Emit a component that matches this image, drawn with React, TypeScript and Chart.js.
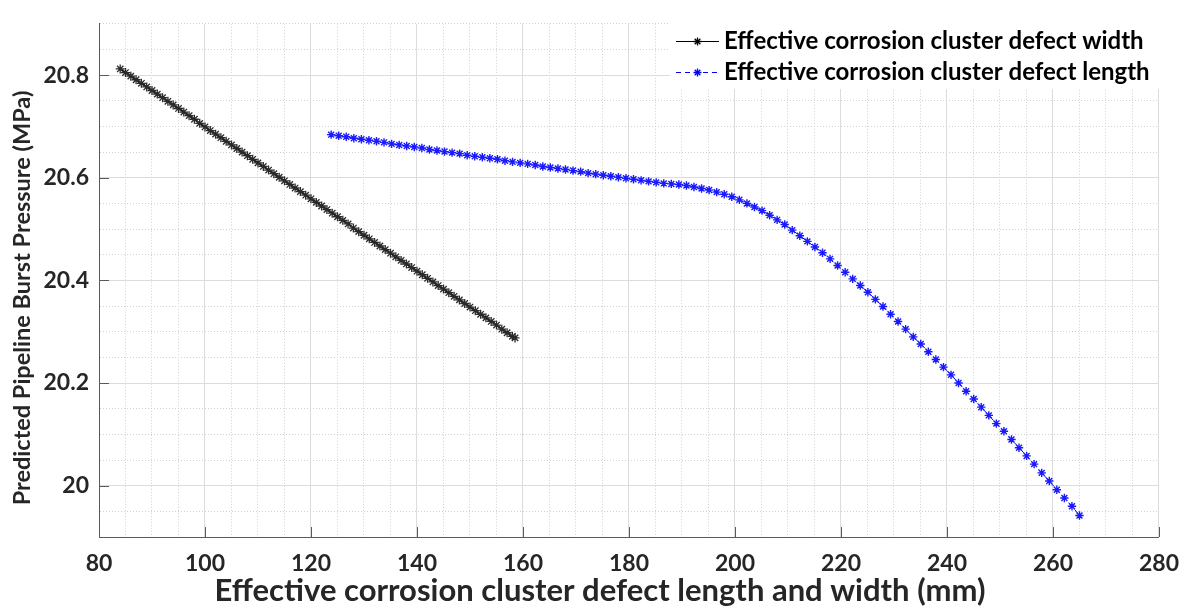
import { useEffect, useRef } from 'react';
import { Chart, registerables } from 'chart.js';

Chart.register(...registerables);

// Effective corrosion cluster defect width (mm) vs predicted burst pressure (MPa)
const widthMm = [
  84, 85, 86, 87, 88, 89, 90, 91, 92, 93, 94, 95, 96, 97, 98, 99, 100, 101, 102, 103,
  104, 105, 106, 107, 108, 109, 110, 111, 112, 113, 114, 115, 116, 117, 118, 119, 120, 121, 122, 123,
  124, 125, 126, 127, 128, 129, 130, 131, 132, 133, 134, 135, 136, 137, 138, 139, 140, 141, 142, 143,
  144, 145, 146, 147, 148, 149, 150, 151, 152, 153, 154, 155, 156, 157, 158, 158.5,
];
const widthPressure = [
  20.812, 20.805, 20.798, 20.791, 20.784, 20.777, 20.77, 20.763, 20.756, 20.749,
  20.742, 20.735, 20.728, 20.721, 20.714, 20.706, 20.699, 20.692, 20.685, 20.678,
  20.671, 20.664, 20.657, 20.65, 20.643, 20.636, 20.629, 20.622, 20.615, 20.608,
  20.601, 20.594, 20.587, 20.58, 20.573, 20.566, 20.559, 20.552, 20.545, 20.538,
  20.531, 20.524, 20.517, 20.51, 20.502, 20.495, 20.488, 20.481, 20.474, 20.467,
  20.46, 20.453, 20.446, 20.439, 20.432, 20.425, 20.418, 20.411, 20.404, 20.397,
  20.39, 20.383, 20.376, 20.369, 20.362, 20.355, 20.348, 20.341, 20.334, 20.327,
  20.32, 20.313, 20.305, 20.298, 20.291, 20.288,
];

// Effective corrosion cluster defect length (mm) vs predicted burst pressure (MPa)
const lengthMm = [
  123.8, 125.23, 126.65, 128.08, 129.51, 130.93, 132.36, 133.78, 135.21, 136.64,
  138.06, 139.49, 140.92, 142.34, 143.77, 145.19, 146.62, 148.05, 149.47, 150.9,
  152.33, 153.75, 155.18, 156.6, 158.03, 159.46, 160.88, 162.31, 163.74, 165.16,
  166.59, 168.02, 169.44, 170.87, 172.29, 173.72, 175.15, 176.57, 178.0, 179.43,
  180.85, 182.28, 183.7, 185.13, 186.56, 187.98, 189.41, 190.84, 192.26, 193.69,
  195.12, 196.54, 197.97, 199.39, 200.82, 202.25, 203.67, 205.1, 206.53, 207.95,
  209.38, 210.8, 212.23, 213.66, 215.08, 216.51, 217.94, 219.36, 220.79, 222.21,
  223.64, 225.07, 226.49, 227.92, 229.35, 230.77, 232.2, 233.63, 235.05, 236.48,
  237.9, 239.33, 240.76, 242.18, 243.61, 245.04, 246.46, 247.89, 249.31, 250.74,
  252.17, 253.59, 255.02, 256.44, 257.87, 259.3, 260.72, 262.15, 263.58, 265.0,
];
const lengthPressure = [
  20.684, 20.682, 20.68, 20.677, 20.675, 20.673, 20.671, 20.669, 20.666, 20.664,
  20.662, 20.66, 20.658, 20.655, 20.653, 20.651, 20.649, 20.647, 20.644, 20.642,
  20.64, 20.638, 20.636, 20.633, 20.631, 20.629, 20.627, 20.625, 20.622, 20.62,
  20.618, 20.616, 20.614, 20.612, 20.609, 20.607, 20.605, 20.603, 20.601, 20.599,
  20.597, 20.595, 20.593, 20.591, 20.589, 20.588, 20.587, 20.585, 20.582, 20.579,
  20.576, 20.572, 20.568, 20.563, 20.557, 20.55, 20.543, 20.536, 20.527, 20.518,
  20.509, 20.498, 20.487, 20.476, 20.465, 20.454, 20.442, 20.429, 20.416, 20.403,
  20.39, 20.377, 20.363, 20.349, 20.334, 20.32, 20.305, 20.29, 20.276, 20.261,
  20.246, 20.231, 20.216, 20.2, 20.184, 20.169, 20.153, 20.137, 20.121, 20.106,
  20.09, 20.074, 20.058, 20.042, 20.025, 20.009, 19.992, 19.976, 19.96, 19.942,
];

const seriesNames = [
  'Effective corrosion cluster defect width',
  'Effective corrosion cluster defect length',
];

const xMajorTicks = [80, 100, 120, 140, 160, 180, 200, 220, 240, 260, 280];
const yMajorTicks = [20, 20.2, 20.4, 20.6, 20.8];
const yTickLabels = ['20', '20.2', '20.4', '20.6', '20.8'];

const xTitle = 'Effective corrosion cluster defect length and width (mm)';
const yTitle = 'Predicted Pipeline Burst Pressure (MPa)';

const FONT = 'Lato';
const TEXT = '#262626';
const AXIS = '#5a5a5a';
const MAJOR_GRID = '#dcdcdc';
const MINOR_GRID = '#d0d0d0';

const isMajor = (list: number[], v: number) => list.some((m) => Math.abs(m - v) < 1e-6);

function strokeStar(ctx: CanvasRenderingContext2D, x: number, y: number, r: number) {
  const d = r * Math.SQRT1_2;
  ctx.beginPath();
  ctx.moveTo(x - r, y);
  ctx.lineTo(x + r, y);
  ctx.moveTo(x, y - r);
  ctx.lineTo(x, y + r);
  ctx.moveTo(x - d, y - d);
  ctx.lineTo(x + d, y + d);
  ctx.moveTo(x - d, y + d);
  ctx.lineTo(x + d, y - d);
  ctx.stroke();
}

// inward major tick marks, axis titles and the legend box
const decorations = {
  id: 'decorations',
  beforeDatasetsDraw(chart: any) {
    const { ctx, chartArea } = chart;
    const xs = chart.scales.x;
    const ys = chart.scales.y;
    ctx.save();
    ctx.strokeStyle = AXIS;
    ctx.lineWidth = 1;
    ctx.beginPath();
    xMajorTicks.forEach((v) => {
      const px = Math.round(xs.getPixelForValue(v)) + 0.5;
      ctx.moveTo(px, chartArea.bottom);
      ctx.lineTo(px, chartArea.bottom - 10);
    });
    yMajorTicks.forEach((v) => {
      const py = Math.round(ys.getPixelForValue(v)) + 0.5;
      ctx.moveTo(chartArea.left, py);
      ctx.lineTo(chartArea.left + 10, py);
    });
    ctx.stroke();
    ctx.restore();
  },
  afterDatasetsDraw(chart: any) {
    const { ctx } = chart;
    ctx.save();
    // axis titles
    ctx.fillStyle = TEXT;
    ctx.textAlign = 'center';
    ctx.textBaseline = 'middle';
    ctx.font = `bold 31px ${FONT}`;
    ctx.fillText(xTitle, 600, 591);
    ctx.font = `bold 23.5px ${FONT}`;
    ctx.translate(22, 298);
    ctx.rotate(-Math.PI / 2);
    ctx.fillText(yTitle, 0, 0);
    ctx.restore();

    // legend
    ctx.save();
    ctx.fillStyle = '#ffffff';
    ctx.fillRect(670, 21, 490, 68);
    const entries = [
      { y: 41, color: '#000000', dash: [] as number[] },
      { y: 72, color: '#0000ff', dash: [5, 4] },
    ];
    entries.forEach((e, i) => {
      ctx.strokeStyle = e.color;
      ctx.lineWidth = 1;
      ctx.setLineDash(e.dash);
      ctx.beginPath();
      ctx.moveTo(676, e.y + 0.5);
      ctx.lineTo(719, e.y + 0.5);
      ctx.stroke();
      ctx.setLineDash([]);
      ctx.lineWidth = 1.3;
      strokeStar(ctx, 697.5, e.y + 0.5, 4);
      ctx.fillStyle = '#000000';
      ctx.font = `bold 24px ${FONT}`;
      ctx.textAlign = 'left';
      ctx.textBaseline = 'middle';
      ctx.fillText(seriesNames[i], 724, e.y);
    });
    ctx.restore();
  },
};

export default function App() {
  const canvasRef = useRef<HTMLCanvasElement | null>(null);

  useEffect(() => {
    document.body.style.margin = '0';
    const canvas = canvasRef.current;
    if (!canvas) return;

    const chart = new Chart(canvas, {
      type: 'scatter',
      data: {
        datasets: [
          {
            label: seriesNames[0],
            data: widthMm.map((x, i) => ({ x, y: widthPressure[i] })),
            showLine: true,
            borderColor: '#000000',
            borderWidth: 1.5,
            pointStyle: 'star',
            pointRadius: 4.5,
            pointBorderColor: '#2a2a2a',
            pointBackgroundColor: '#2a2a2a',
            pointBorderWidth: 1.3,
          },
          {
            label: seriesNames[1],
            data: lengthMm.map((x, i) => ({ x, y: lengthPressure[i] })),
            showLine: true,
            borderColor: '#0000ff',
            borderWidth: 1,
            borderDash: [5, 4],
            pointStyle: 'star',
            pointRadius: 4.2,
            pointBorderColor: '#1a1aff',
            pointBackgroundColor: '#1a1aff',
            pointBorderWidth: 1.4,
          },
        ],
      },
      options: {
        responsive: false,
        animation: false,
        events: [],
        layout: { padding: { top: 9, right: 30, left: 0, bottom: 0 } },
        plugins: {
          legend: { display: false },
          tooltip: { enabled: false },
        },
        scales: {
          x: {
            type: 'linear',
            min: 80,
            max: 280,
            afterFit: (s: any) => {
              s.height = 71;
            },
            ticks: {
              stepSize: 5,
              autoSkip: false,
              maxRotation: 0,
              padding: 13,
              color: TEXT,
              font: { family: FONT, size: 23, weight: 'bold' },
              callback: (v: any) => (isMajor(xMajorTicks, Number(v)) ? String(Math.round(Number(v))) : ''),
            },
            grid: {
              drawTicks: false,
              lineWidth: 1,
              color: (c: any) => (c.tick && isMajor(xMajorTicks, c.tick.value) ? MAJOR_GRID : MINOR_GRID),
            },
            border: {
              display: true,
              color: AXIS,
              width: 1,
              dash: (c: any) => (c.tick && !isMajor(xMajorTicks, c.tick.value) ? [1, 2] : []),
            },
          },
          y: {
            type: 'linear',
            min: 19.9,
            max: 20.9,
            afterFit: (s: any) => {
              s.width = 99;
            },
            ticks: {
              stepSize: 0.05,
              autoSkip: false,
              padding: 10,
              color: TEXT,
              font: { family: FONT, size: 23, weight: 'bold' },
              callback: (v: any) => {
                const k = yMajorTicks.findIndex((m) => Math.abs(m - Number(v)) < 1e-6);
                return k >= 0 ? yTickLabels[k] : '';
              },
            },
            grid: {
              drawTicks: false,
              lineWidth: 1,
              color: (c: any) => (c.tick && isMajor(yMajorTicks, c.tick.value) ? MAJOR_GRID : MINOR_GRID),
            },
            border: {
              display: true,
              color: AXIS,
              width: 1,
              dash: (c: any) => (c.tick && !isMajor(yMajorTicks, c.tick.value) ? [1, 2] : []),
            },
          },
        },
      },
      plugins: [decorations],
    });

    return () => chart.destroy();
  }, []);

  return (
    <div style={{ width: 1192, height: 608, background: '#ffffff' }}>
      <canvas ref={canvasRef} width={1192} height={608} style={{ display: 'block' }} />
    </div>
  );
}
